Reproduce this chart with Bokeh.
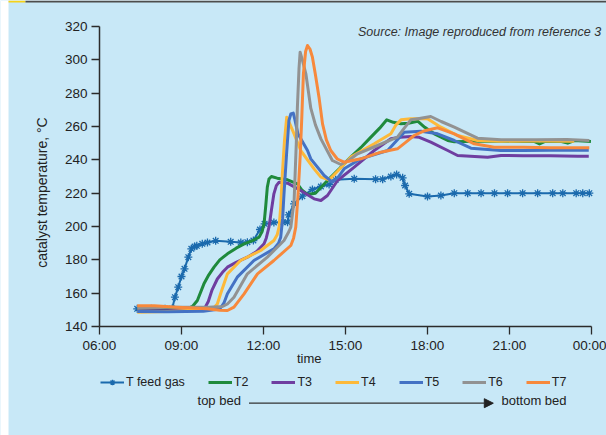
import math
from bokeh.plotting import figure
from bokeh.models import Range1d, FixedTicker, Label, Arrow, NormalHead, BoxAnnotation
from bokeh.embed import file_html
from bokeh.resources import INLINE

# ---------------- data (hours of day, °C) ----------------
feed_t = [7.38, 7.9, 8.4, 8.66, 8.76, 8.88, 9.0, 9.11, 9.25, 9.36, 9.48, 9.56, 9.76, 9.95, 10.25,
          10.8, 11.17, 11.41, 11.63, 11.87, 12.04, 12.38, 12.7, 12.88, 12.92, 13.12, 13.42, 13.79,
          14.1, 14.4, 14.64, 15.32, 16.1, 16.36, 16.66, 16.87, 17.09, 17.18, 17.33, 18.0, 18.49,
          18.98, 19.47, 19.96, 20.45, 20.93, 21.48, 22.03, 22.58, 22.95, 23.44, 23.68, 23.92]
feed_v = [150.6, 150.6, 150.6, 150.8, 157.6, 163.6, 170.0, 174.6, 181.6, 186.6, 188.0, 188.4, 189.6, 190.4, 191.4,
          190.8, 190.4, 190.6, 191.6, 198.2, 201.6, 202.4, 202.6, 202.6, 207.0, 213.6, 218.2, 222.2,
          224.0, 225.2, 228.0, 228.6, 228.4, 228.4, 230.0, 231.2, 229.2, 224.6, 219.6, 218.0, 218.6,
          220.0, 220.0, 220.0, 220.0, 220.0, 220.0, 220.0, 220.0, 220.0, 220.0, 220.0, 220.0]

t2_t = [7.38, 8.5, 9.2, 9.4, 9.58, 9.82, 10.0, 10.19, 10.4, 10.68, 11.0, 11.29, 11.6, 11.84, 11.95, 12.02,
        12.08, 12.14, 12.2, 12.29, 12.5, 12.88, 13.24, 13.4, 13.61, 13.9, 14.34, 14.8, 15.19, 15.6, 15.93,
        16.25, 16.51, 16.75, 17.03, 17.3, 17.64, 17.9, 18.25, 18.74, 18.98, 19.71, 20.69, 21.5, 21.9,
        22.1, 22.3, 22.9, 23.13, 23.37, 23.98]
t2_v = [150.0, 150.2, 150.6, 152.0, 155.6, 165.6, 171.0, 175.6, 180.0, 183.6, 187.0, 189.6, 191.5, 193.6, 197.0, 201.6,
        212.0, 223.6, 228.5, 230.0, 229.0, 228.0, 225.6, 222.0, 219.2, 220.0, 227.6, 235.0, 241.6, 248.0, 253.6,
        259.0, 264.0, 262.5, 261.6, 262.0, 263.2, 259.5, 255.6, 251.6, 250.8, 251.2, 251.2, 251.0, 251.0,
        249.5, 251.0, 251.0, 250.0, 251.6, 251.0]

t3_t = [7.38, 8.5, 9.5, 9.85, 9.98, 10.12, 10.31, 10.5, 10.68, 11.0, 11.41, 11.75, 12.02, 12.1, 12.2, 12.3, 12.38, 12.47,
        12.57, 12.88, 13.36, 13.85, 14.1, 14.34, 14.71, 15.32, 16.05, 16.66, 17.0, 17.39, 17.7, 18.12, 18.74,
        19.1, 20.2, 20.69, 21.5, 22.5, 23.5, 23.9]
t3_v = [149.5, 149.5, 150.0, 151.0, 155.0, 162.0, 168.5, 172.5, 175.6, 178.5, 181.6, 185.0, 189.6, 193.0, 199.6, 211.0, 219.6, 224.5,
        226.6, 226.0, 221.6, 216.6, 215.6, 218.6, 227.6, 235.6, 245.6, 252.6, 253.6, 254.0, 253.5, 250.6, 245.6,
        242.6, 241.6, 242.6, 242.5, 242.4, 242.2, 242.2]

t4_t = [7.38, 8.5, 9.8, 10.2, 10.31, 10.43, 10.68, 11.16, 11.9, 12.38, 12.5, 12.57, 12.63, 12.69, 12.77, 12.85,
        12.95, 13.12, 13.36, 13.85, 14.1, 14.4, 14.7, 15.19, 16.05, 16.66, 16.85, 17.03, 17.39, 18.0, 18.49,
        19.1, 19.83, 20.69, 22.0, 23.37]
t4_v = [148.5, 149.0, 150.0, 151.5, 153.5, 159.6, 171.6, 179.6, 185.6, 191.6, 195.0, 199.6, 212.0, 231.6, 252.0, 265.6,
        262.0, 255.6, 245.6, 234.6, 229.6, 228.0, 233.0, 241.6, 249.6, 255.6, 261.0, 264.0, 264.6, 264.6, 259.6,
        254.6, 251.6, 251.2, 251.3, 251.2]

t5_t = [7.38, 8.5, 9.8, 10.4, 10.55, 10.68, 11.04, 11.65, 12.38, 12.55, 12.63, 12.7, 12.75, 12.85, 12.93, 13.0,
        13.09, 13.15, 13.26, 13.61, 13.73, 14.22, 14.52, 14.75, 14.95, 15.56, 16.54, 16.9, 17.15, 17.76, 18.37,
        18.98, 19.59, 20.69, 21.5, 22.5, 23.9]
t5_v = [149.0, 148.8, 149.2, 150.5, 154.0, 159.6, 169.6, 179.6, 186.6, 190.0, 193.6, 205.0, 219.6, 245.0, 263.6, 267.5,
        268.0, 264.0, 255.6, 245.6, 240.6, 230.6, 226.6, 230.0, 234.6, 240.6, 245.6, 252.0, 256.6, 257.2, 255.6,
        251.6, 247.0, 245.6, 245.6, 245.8, 245.8]

t6_t = [7.38, 8.5, 10.0, 10.5, 10.68, 10.92, 11.41, 12.14, 12.75, 12.93, 13.0, 13.12, 13.2, 13.24, 13.3, 13.34,
        13.42, 13.55, 13.73, 13.9, 14.1, 14.52, 14.83, 15.1, 15.44, 16.17, 16.9, 17.15, 17.39, 17.7, 18.12,
        18.5, 18.98, 19.83, 20.69, 22.0, 23.1, 23.92]
t6_v = [151.0, 151.5, 151.5, 152.0, 153.5, 157.6, 171.6, 181.6, 191.6, 197.0, 199.6, 215.6, 250.0, 271.6, 295.0, 304.6,
        300.0, 291.6, 271.0, 261.0, 252.6, 239.6, 237.2, 239.5, 243.6, 248.6, 253.6, 259.0, 264.0, 264.8, 266.0,
        263.0, 259.6, 253.0, 252.0, 252.0, 252.2, 251.6]

t7_t = [7.38, 8.0, 8.84, 9.94, 10.4, 10.68, 10.92, 11.29, 11.78, 12.38, 13.0, 13.1, 13.18, 13.26, 13.34, 13.4,
        13.46, 13.54, 13.61, 13.7, 13.79, 13.9, 14.03, 14.16, 14.3, 14.46, 14.7, 14.95, 15.56, 16.29, 16.9,
        17.2, 17.51, 17.9, 18.37, 18.98, 19.71, 20.44, 21.5, 22.5, 23.92]
t7_v = [152.5, 152.5, 151.6, 150.6, 149.8, 149.6, 151.6, 159.6, 171.6, 179.6, 188.6, 193.0, 199.6, 218.0, 241.6, 265.0,
        291.6, 305.0, 308.6, 306.5, 301.6, 291.0, 277.6, 261.6, 252.0, 245.6, 240.5, 238.6, 240.6, 244.6, 246.6,
        250.5, 254.6, 257.5, 259.2, 255.6, 249.6, 247.6, 247.5, 247.3, 247.2]

series_names = ["T2", "T3", "T4", "T5", "T6", "T7"]
series_colors = ["#1f8a3c", "#6f3ea0", "#fdb93a", "#4472c4", "#929292", "#f7893c"]
series_t = [t2_t, t3_t, t4_t, t5_t, t6_t, t7_t]
series_v = [t2_v, t3_v, t4_v, t5_v, t6_v, t7_v]

x_ticks = [6, 9, 12, 15, 18, 21, 24]
x_tick_labels = ["06:00", "09:00", "12:00", "15:00", "18:00", "21:00", "00:00"]
y_ticks = [140, 160, 180, 200, 220, 240, 260, 280, 300, 320]

BG = "#c8e8f7"
FONT = "Liberation Sans"
W, H = 606, 435
AX_X, AX_Y_TOP, AX_Y_BOT = 99, 26, 326      # pixel positions of the axes
PX_PER_H = (591 - AX_X) / 18.0
PX_PER_DEG = (AX_Y_BOT - AX_Y_TOP) / 180.0

x0 = 6 - AX_X / PX_PER_H
x1 = 6 + (W - AX_X) / PX_PER_H
y1 = 320 + AX_Y_TOP / PX_PER_DEG
y0 = 320 - (H - AX_Y_TOP) / PX_PER_DEG

def hx(px):
    return 6 + (px - AX_X) / PX_PER_H

def vy(py):
    return 140 + (AX_Y_BOT - py) / PX_PER_DEG

p = figure(width=W, height=H, output_backend="svg", toolbar_location=None,
           x_range=Range1d(x0, x1), y_range=Range1d(y0, y1),
           min_border=0, min_border_left=0, min_border_right=0,
           min_border_top=0, min_border_bottom=0)
p.background_fill_color = BG
p.border_fill_color = BG
p.outline_line_color = None
p.xgrid.visible = False
p.ygrid.visible = False

for ax in (p.xaxis[0], p.yaxis[0]):
    ax.axis_line_color = "#2b2b2b"
    ax.axis_line_width = 1.5
    ax.major_tick_line_color = "#2b2b2b"
    ax.major_tick_line_width = 1.3
    ax.minor_tick_line_color = None
    ax.major_tick_in = 0
    ax.major_label_text_font = FONT
    ax.major_label_text_font_size = "13.5px"
    ax.major_label_text_color = "#222222"

p.xaxis.ticker = FixedTicker(ticks=x_ticks)
p.xaxis.major_label_overrides = {t: l for t, l in zip(x_ticks, x_tick_labels)}
p.xaxis.major_tick_out = 8
p.xaxis.major_label_standoff = 3
p.xaxis.fixed_location = 140
p.xaxis.bounds = (6, 24)
p.yaxis.ticker = FixedTicker(ticks=y_ticks)
p.yaxis.major_tick_out = 8
p.yaxis.major_label_standoff = 4
p.yaxis.fixed_location = 6
p.yaxis.bounds = (140, 320)

# frame decorations: white left strip and top bar
p.add_layout(BoxAnnotation(right=hx(8), fill_color="white", fill_alpha=1, line_color=None))
p.add_layout(BoxAnnotation(left=hx(8), right=hx(25), bottom=vy(2), fill_color="#f5d21a",
                           fill_alpha=1, line_color=None))
p.add_layout(BoxAnnotation(left=hx(25), bottom=vy(2), fill_color="#4d4d4d",
                           fill_alpha=1, line_color=None))

# series
p.line(feed_t, feed_v, line_color="#1b6aad", line_width=2, legend_label="T feed gas")
p.scatter(feed_t, feed_v, marker="asterisk", size=8, line_color="#1b6aad", line_width=1.3,
          legend_label="T feed gas")
for name, col, tt, vv in zip(series_names, series_colors, series_t, series_v):
    p.line(tt, vv, line_color=col, line_width=3, legend_label=name, line_join="round")

lg = p.legend[0]
lg.orientation = "horizontal"
lg.location = (100, H - 389)
lg.glyph_width = 24
lg.glyph_height = 14
lg.label_standoff = 2
lg.spacing = 23
lg.padding = 0
lg.margin = 0
lg.label_width = 14
lg.label_height = 14
lg.label_text_font = FONT
lg.label_text_font_size = "12.5px"
lg.label_text_color = "#222222"
lg.border_line_color = None
lg.background_fill_alpha = 0

# texts
p.add_layout(Label(x=hx(357.5), y=vy(31.7), text="Source: Image reproduced from reference 3",
                   text_font=FONT, text_font_style="italic", text_font_size="12.5px",
                   text_color="#333333", text_baseline="middle", text_align="left"))
p.add_layout(Label(x=hx(308.7), y=vy(358), text="time", text_font=FONT, text_font_size="13px",
                   text_color="#222222", text_align="center", text_baseline="middle"))
p.add_layout(Label(x=hx(41.5), y=vy(192), text="catalyst temperature, °C", angle=math.pi / 2,
                   text_font=FONT, text_font_size="14px", text_color="#222222",
                   text_align="center", text_baseline="middle"))
p.add_layout(Label(x=hx(240.4), y=vy(400), text="top bed", text_font=FONT, text_font_size="13px",
                   text_color="#222222", text_align="right", text_baseline="middle"))
p.add_layout(Label(x=hx(501), y=vy(400), text="bottom bed", text_font=FONT, text_font_size="13px",
                   text_color="#222222", text_align="left", text_baseline="middle"))
p.add_layout(Arrow(end=NormalHead(size=9, fill_color="#222222", line_color="#222222"),
                   x_start=hx(248.5), y_start=vy(402.7), x_end=hx(492.8), y_end=vy(402.7),
                   line_color="#333333", line_width=1.3))

open("out.html", "w").write(file_html(p, INLINE))
